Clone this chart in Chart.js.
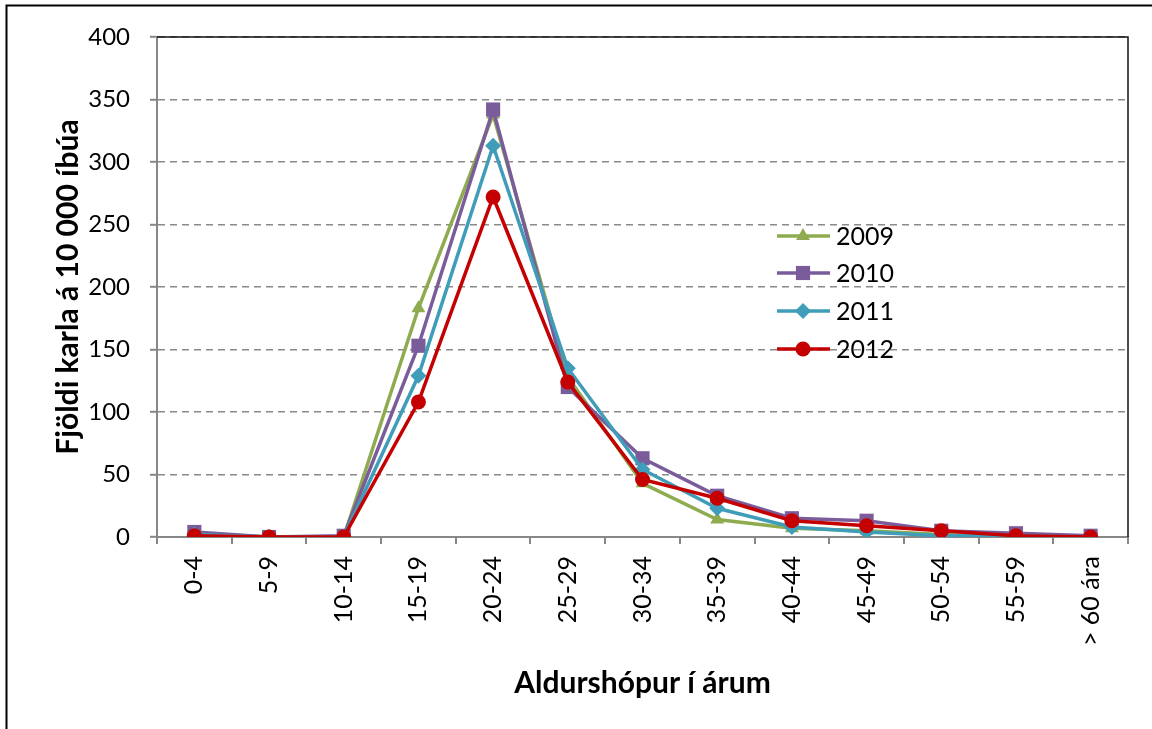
<!DOCTYPE html>
<html>
<head>
<meta charset="utf-8">
<script src="https://cdn.jsdelivr.net/npm/chart.js@4/dist/chart.umd.min.js"></script>
<style>
  html, body { margin: 0; padding: 0; background: #ffffff; }
  #wrap { width: 1152px; height: 729px; position: relative; }
</style>
</head>
<body>
<div id="wrap"><canvas id="c" width="1152" height="729"></canvas></div>
<script>
const categories = ['0-4','5-9','10-14','15-19','20-24','25-29','30-34','35-39','40-44','45-49','50-54','55-59','> 60 ára'];
const seriesNames = ['2009','2010','2011','2012'];
const values2009 = [3, 0, 0, 183, 338, 128, 43, 14, 7, 5, 2, 0, 0];
const values2010 = [4, 0, 1, 153, 342, 120, 63, 33, 15, 13, 5, 3, 1];
const values2011 = [2, 0, 0, 129, 313, 135, 54, 23, 8, 4, 1, 1, 0];
const values2012 = [1, 0, 0, 108, 272, 124, 46, 31, 13, 9, 5, 1, 0];
const yTicks = [0, 50, 100, 150, 200, 250, 300, 350, 400];
const xTitle = 'Aldurshópur í árum';
const yTitle = 'Fjöldi karla á 10 000 íbúa';

const colors = ['#8eab50', '#7a5c9b', '#3f9db9', '#c50000'];
const shapes = ['triangle', 'rect', 'rectRot', 'circle'];
const radii = [8, 10, 8, 7.5];
const allValues = [values2009, values2010, values2011, values2012];

const FONT = 'Lato, "Liberation Sans", sans-serif';

const datasets = allValues.map((vals, i) => ({
  label: seriesNames[i],
  data: vals,
  borderColor: colors[i],
  backgroundColor: colors[i],
  pointBackgroundColor: colors[i],
  pointBorderColor: colors[i],
  pointBorderWidth: 0,
  borderWidth: 3.5,
  pointStyle: shapes[i],
  pointRadius: radii[i],
  pointHoverRadius: radii[i],
  tension: 0,
  order: 4 - i
}));

const framePlugin = {
  id: 'frame',
  beforeDraw(chart) {
    const ctx = chart.ctx;
    ctx.save();
    ctx.fillStyle = '#ffffff';
    ctx.fillRect(0, 0, chart.width, chart.height);
    ctx.strokeStyle = '#000000';
    ctx.lineWidth = 2;
    ctx.beginPath();
    ctx.moveTo(6.5, 729);
    ctx.lineTo(6.5, 5.5);
    ctx.lineTo(1152, 5.5);
    ctx.stroke();
    ctx.restore();
  },
  beforeDatasetsDraw(chart) {
    const a = chart.chartArea;
    const ctx = chart.ctx;
    ctx.save();
    ctx.strokeStyle = '#111111';
    ctx.lineWidth = 1.5;
    ctx.beginPath();
    ctx.moveTo(a.left, a.top);
    ctx.lineTo(a.right, a.top);
    ctx.lineTo(a.right, a.bottom);
    ctx.stroke();
    ctx.restore();
  }
};

function drawMarker(ctx, shape, x, y, r, color) {
  ctx.fillStyle = color;
  ctx.beginPath();
  if (shape === 'circle') {
    ctx.arc(x, y, r, 0, Math.PI * 2);
  } else if (shape === 'rect') {
    const s = r * Math.SQRT1_2;
    ctx.rect(x - s, y - s, 2 * s, 2 * s);
  } else if (shape === 'rectRot') {
    ctx.moveTo(x, y - r); ctx.lineTo(x + r, y); ctx.lineTo(x, y + r); ctx.lineTo(x - r, y);
    ctx.closePath();
  } else if (shape === 'triangle') {
    ctx.moveTo(x, y - r);
    ctx.lineTo(x + r * Math.cos(Math.PI / 6), y + r * 0.5);
    ctx.lineTo(x - r * Math.cos(Math.PI / 6), y + r * 0.5);
    ctx.closePath();
  }
  ctx.fill();
}

const legendPlugin = {
  id: 'insideLegend',
  afterDraw(chart) {
    const ctx = chart.ctx;
    const x0 = 777, x1 = 830, xm = 803, xt = 836;
    const ys = [236, 273, 311, 349];
    ctx.save();
    seriesNames.forEach((name, i) => {
      const y = ys[i];
      ctx.strokeStyle = colors[i];
      ctx.lineWidth = 3.5;
      ctx.beginPath();
      ctx.moveTo(x0, y); ctx.lineTo(x1, y);
      ctx.stroke();
      drawMarker(ctx, shapes[i], xm, y, radii[i], colors[i]);
      ctx.fillStyle = '#000000';
      ctx.font = '25px ' + FONT;
      ctx.textAlign = 'left';
      ctx.textBaseline = 'middle';
      ctx.fillText(name, xt, y + 1);
    });
    ctx.restore();
  }
};

new Chart(document.getElementById('c'), {
  type: 'line',
  data: { labels: categories, datasets: datasets },
  options: {
    responsive: false,
    animation: false,
    events: [],
    layout: { padding: { left: 0, top: 37, right: 24, bottom: 0 } },
    plugins: { legend: { display: false }, tooltip: { enabled: false } },
    scales: {
      x: {
        offset: true,
        grid: {
          offset: true,
          drawOnChartArea: false,
          drawTicks: true,
          tickLength: 7,
          color: '#878787',
          lineWidth: 2
        },
        border: { color: '#878787', width: 2 },
        ticks: {
          autoSkip: false,
          minRotation: 90,
          maxRotation: 90,
          padding: 12,
          color: '#000000',
          font: { family: FONT, size: 25 }
        },
        title: {
          display: true,
          text: xTitle,
          color: '#000000',
          font: { family: FONT, size: 30, weight: 'bold' },
          padding: { top: 0, bottom: 28 }
        },
        afterFit(scale) { scale.height = 192; }
      },
      y: {
        min: 0,
        max: 400,
        afterBuildTicks(scale) { scale.ticks = yTicks.map(v => ({ value: v })); },
        grid: {
          color: '#8a8a8a',
          lineWidth: 1.6,
          tickLength: 7,
          tickColor: '#878787',
          tickWidth: 2,
          tickBorderDash: []
        },
        border: { color: '#878787', width: 2, dash: [7, 5] },
        ticks: {
          padding: 20,
          color: '#000000',
          font: { family: FONT, size: 24 }
        },
        title: {
          display: true,
          text: yTitle,
          color: '#000000',
          font: { family: FONT, size: 30, weight: 'bold' },
          padding: { top: 50, bottom: 0 }
        },
        afterFit(scale) { scale.width = 157; }
      }
    }
  },
  plugins: [framePlugin, legendPlugin]
});
</script>
</body>
</html>
